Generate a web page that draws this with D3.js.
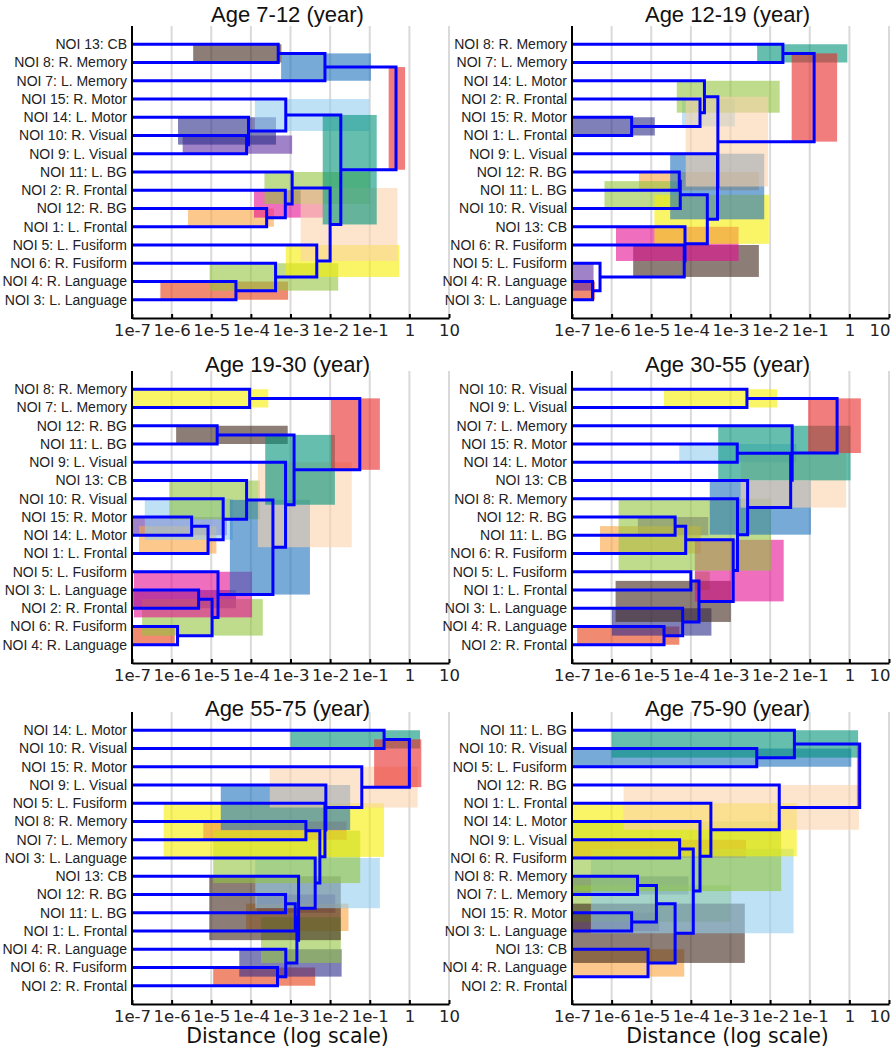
<!DOCTYPE html>
<html>
<head>
<meta charset="utf-8">
<script src="https://cdn.jsdelivr.net/npm/d3@7"></script>
<style>
  body { margin: 0; background: #fff; }
</style>
</head>
<body>
<div id="chart"></div>
<script>
// Data
const noiNames = {
  1: 'L. Frontal', 2: 'R. Frontal', 3: 'L. Language', 4: 'R. Language',
  5: 'L. Fusiform', 6: 'R. Fusiform', 7: 'L. Memory', 8: 'R. Memory',
  9: 'L. Visual', 10: 'R. Visual', 11: 'L. BG', 12: 'R. BG',
  13: 'CB', 14: 'L. Motor', 15: 'R. Motor'
}

const titles = [
  'Age 7-12 (year)', 'Age 12-19 (year)', 'Age 19-30 (year)',
  'Age 30-55 (year)', 'Age 55-75 (year)', 'Age 75-90 (year)'
]

const tickValues = [1e-7, 1e-6, 1e-5, 1e-4, 1e-3, 1e-2, 1e-1, 1, 10]
const tickLabels = ['1e-7', '1e-6', '1e-5', '1e-4', '1e-3', '1e-2', '1e-1', '1', '10']
const xLabel = 'Distance (log scale)'

// leaf order, top to bottom (NOI number)
const order1 = [13, 8, 7, 15, 14, 10, 9, 11, 2, 12, 1, 5, 6, 4, 3]
const order2 = [8, 7, 14, 2, 15, 1, 9, 12, 11, 10, 13, 6, 5, 4, 3]
const order3 = [8, 7, 12, 11, 9, 13, 10, 15, 14, 1, 5, 3, 2, 6, 4]
const order4 = [10, 9, 7, 15, 14, 13, 8, 12, 11, 6, 5, 1, 3, 4, 2]
const order5 = [14, 10, 15, 9, 5, 8, 7, 3, 13, 12, 11, 1, 4, 6, 2]
const order6 = [11, 10, 5, 12, 1, 14, 9, 6, 8, 7, 15, 3, 13, 4, 2]

// linkage: [node A, node B, distance, interval low, interval high]
// nodes 1-15 are NOIs, node 15+k is the cluster made by row k
const links1 = [
  [4, 3, 4.2e-5, 5.2e-7, 8.7e-4],
  [10, 9, 7.8e-5, 1.9e-6, 1.1e-3],
  [14, 17, 8.7e-5, 1.45e-6, 4.3e-4],
  [12, 1, 2.5e-4, 2.6e-6, 3.8e-4],
  [6, 16, 4.2e-4, 9.1e-6, 1.6e-2],
  [13, 8, 4.9e-4, 3.5e-6, 5.9e-4],
  [2, 19, 7.4e-4, 1.2e-4, 6.6e-3],
  [15, 18, 7.6e-4, 1.26e-4, 9.8e-2],
  [11, 22, 1.1e-3, 2.2e-4, 0.102],
  [5, 20, 4.6e-3, 7.6e-4, 0.56],
  [21, 7, 7.4e-3, 5.8e-4, 0.107],
  [24, 25, 1.0e-2, 1.8e-3, 0.50],
  [23, 27, 1.86e-2, 6.5e-3, 0.15],
  [26, 28, 0.46, 0.30, 0.78]
]
const links2 = [
  [4, 3, 3.3e-7, 5e-8, 3.8e-7],
  [5, 16, 5.1e-7, 5e-8, 3.5e-7],
  [15, 1, 3.2e-6, 5e-8, 1.23e-5],
  [12, 11, 5.1e-5, 4.9e-6, 5.2e-3],
  [19, 10, 5.4e-5, 6.6e-7, 5.6e-5],
  [6, 17, 6.8e-5, 3.5e-6, 5.2e-3],
  [13, 21, 7.1e-5, 1.29e-6, 1.6e-3],
  [2, 18, 1.7e-4, 6.0e-5, 1.29e-3],
  [14, 23, 2.2e-4, 4.4e-5, 1.74e-2],
  [20, 22, 2.6e-4, 1.2e-5, 9.3e-3],
  [9, 25, 4.7e-4, 3.0e-5, 7.1e-3],
  [24, 26, 4.8e-4, 7.4e-5, 8.9e-3],
  [8, 7, 2.1e-2, 4.7e-3, 0.89],
  [28, 27, 0.129, 3.5e-2, 0.49]
]
const links3 = [
  [6, 4, 1.41e-6, 5e-8, 1.2e-6],
  [15, 14, 3.2e-6, 5e-8, 2.5e-5],
  [3, 2, 4.8e-6, 5e-8, 4.2e-5],
  [17, 1, 8.3e-6, 1.5e-7, 1.35e-5],
  [18, 16, 1.05e-5, 1.8e-7, 2.0e-4],
  [12, 11, 1.41e-5, 1.3e-6, 8.5e-4],
  [5, 20, 1.48e-5, 1.12e-7, 1.07e-4],
  [10, 19, 2.0e-5, 2.1e-7, 3.5e-5],
  [13, 23, 7.8e-5, 8.7e-7, 1.7e-4],
  [8, 7, 9.3e-5, 5e-8, 2.75e-4],
  [24, 22, 3.6e-4, 2.95e-5, 3.1e-3],
  [9, 26, 7.5e-4, 1.5e-4, 3.5e-2],
  [21, 27, 1.23e-3, 2.3e-4, 1.32e-2],
  [25, 28, 5.6e-2, 1.05e-2, 0.18]
]
const links4 = [
  [4, 2, 2.1e-5, 1.35e-7, 5.1e-5],
  [12, 11, 4.0e-5, 4.6e-6, 2.75e-4],
  [3, 16, 6.2e-5, 1.02e-6, 3.3e-4],
  [17, 6, 7.4e-5, 5.1e-7, 1.78e-4],
  [5, 1, 1.0e-4, 1.26e-4, 3.0e-4],
  [20, 18, 1.6e-4, 1.26e-6, 1.02e-3],
  [19, 21, 1.17e-3, 1.26e-4, 2.2e-2],
  [15, 14, 1.48e-3, 5.1e-5, 4.6e-2],
  [8, 22, 1.5e-3, 1.5e-6, 1.05e-2],
  [10, 9, 2.6e-3, 2.1e-5, 1.5e-2],
  [13, 24, 2.7e-3, 3.0e-4, 0.107],
  [23, 26, 3.3e-2, 1.8e-3, 0.83],
  [7, 27, 3.6e-2, 4.9e-4, 1.07],
  [25, 28, 0.49, 9.1e-2, 1.95]
]
const links5 = [
  [6, 2, 4.7e-4, 1.12e-5, 4.2e-3],
  [12, 11, 7.5e-4, 1.41e-4, 1.35e-2],
  [4, 16, 7.6e-4, 5.1e-5, 1.95e-2],
  [17, 1, 1.32e-3, 7.6e-5, 2.9e-2],
  [19, 18, 1.45e-3, 1.8e-4, 1.86e-2],
  [13, 20, 1.6e-3, 8.9e-6, 1.86e-2],
  [8, 7, 2.45e-3, 6.3e-6, 2.6e-2],
  [3, 21, 4.2e-3, 1.29e-4, 0.18],
  [22, 23, 5.5e-3, 1.12e-5, 5.75e-2],
  [5, 24, 7.4e-3, 6.3e-7, 0.23],
  [9, 25, 7.8e-3, 1.74e-5, 3.2e-2],
  [15, 26, 6.3e-2, 3.0e-4, 1.62],
  [14, 10, 0.23, 1.0e-3, 1.86],
  [28, 27, 1.0, 0.129, 2.0]
]
const links6 = [
  [4, 2, 3e-8, 1e-8, 2e-8],
  [15, 3, 3.2e-6, 5e-8, 1.58e-5],
  [8, 7, 4.5e-6, 5e-8, 8.7e-5],
  [13, 16, 8.3e-6, 5e-8, 6.8e-5],
  [18, 17, 1.35e-5, 5e-8, 1.0e-3],
  [20, 19, 4.0e-5, 5e-8, 2.3e-3],
  [9, 6, 5.2e-5, 5e-8, 2.45e-3],
  [22, 21, 1.15e-4, 3.0e-7, 3.9e-2],
  [14, 23, 1.7e-4, 5e-8, 1.9e-2],
  [1, 24, 3.2e-4, 5e-8, 4.7e-2],
  [10, 5, 4.6e-3, 5e-8, 1.12],
  [12, 25, 1.7e-2, 2.0e-6, 1.74],
  [11, 26, 4.1e-2, 1.0e-6, 1.66],
  [27, 28, 1.82, 1.55, 1.82]
]

const orders = [order1, order2, order3, order4, order5, order6]
const allLinks = [links1, links2, links3, links4, links5, links6]

// one colour per merge step
const palette = [
  '#e63c10', '#612fa3', '#2b2b8a', '#faa33f', '#93c53f', '#40281a', '#e60d93',
  '#93cdee', '#93c53f', '#f7ee00', '#1e71bc', '#fad2ac', '#00937a', '#e82626'
]

// Dimensions
const dimensions = {
  width: 891,
  height: 1050,
  plotW: 317,
  plotH: 292,
  lefts: [132, 572],
  tops: [26, 371, 712],
  titleY: [22, 372, 716],
}

const svg = d3.select('#chart')
  .append('svg')
  .attr('width', dimensions.width)
  .attr('height', dimensions.height)
  .style('font-family', 'Liberation Sans, Arial, sans-serif')

titles.forEach((title, p) => {
  const left = dimensions.lefts[p % 2]
  const row = Math.floor(p / 2)
  const top = dimensions.tops[row]
  const right = left + dimensions.plotW
  const bottom = top + dimensions.plotH
  const order = orders[p]
  const links = allLinks[p]

  const xScale = d3.scaleLog()
    .domain([1e-7, 10])
    .range([left, right])

  const yScale = d3.scaleLinear()
    .domain([-1, order.length])
    .range([top, bottom])

  const ctr = svg.append('g')

  const clipId = `clip-${p}`
  ctr.append('clipPath')
    .attr('id', clipId)
    .append('rect')
    .attr('x', left)
    .attr('y', top - 5)
    .attr('width', dimensions.plotW)
    .attr('height', dimensions.plotH + 10)

  // grid
  ctr.append('g')
    .selectAll('line')
    .data(tickValues.slice(1))
    .join('line')
    .attr('x1', d => xScale(d))
    .attr('x2', d => xScale(d))
    .attr('y1', top)
    .attr('y2', bottom)
    .attr('stroke', '#dadada')
    .attr('stroke-width', 2)

  // node positions: leaves then clusters
  const nodes = {}
  order.forEach((noi, i) => { nodes[noi] = { y: i, d: 0 } })
  const merges = links.map((l, k) => {
    const a = nodes[l[0]]
    const b = nodes[l[1]]
    nodes[order.length + 1 + k] = { y: (a.y + b.y) / 2, d: l[2] }
    return { a, b, d: l[2], lo: l[3], hi: l[4], k }
  })

  const xPos = d => d === 0 ? left : xScale(d)

  const plot = ctr.append('g')
    .attr('clip-path', `url(#${clipId})`)

  // interval boxes
  plot.append('g')
    .selectAll('rect')
    .data(merges)
    .join('rect')
    .attr('x', m => xScale(m.lo))
    .attr('width', m => Math.max(0, xScale(m.hi) - xScale(m.lo)))
    .attr('y', m => yScale(Math.min(m.a.y, m.b.y)))
    .attr('height', m => Math.abs(yScale(m.a.y) - yScale(m.b.y)))
    .attr('fill', m => palette[m.k])
    .attr('fill-opacity', 0.6)

  // dendrogram
  plot.append('g')
    .selectAll('path')
    .data(merges)
    .join('path')
    .attr('d', m => `M${xPos(m.a.d)},${yScale(m.a.y)}H${xScale(m.d)}V${yScale(m.b.y)}H${xPos(m.b.d)}`)
    .attr('fill', 'none')
    .attr('stroke', '#0000ff')
    .attr('stroke-width', 3)
    .attr('stroke-linejoin', 'miter')

  // leaf labels
  ctr.append('g')
    .selectAll('text')
    .data(order)
    .join('text')
    .attr('x', left - 5)
    .attr('y', (d, i) => yScale(i))
    .attr('dy', '0.35em')
    .attr('text-anchor', 'end')
    .attr('font-size', 14)
    .attr('fill', '#222')
    .text(d => `NOI ${d}: ${noiNames[d]}`)

  // axes
  const xAxis = d3.axisBottom(xScale)
    .tickValues(tickValues)
    .tickFormat((d, i) => tickLabels[i])
    .tickSizeInner(-4)
    .tickSizeOuter(0)
    .tickPadding(6)

  const axisG = ctr.append('g')
    .attr('transform', `translate(0, ${bottom})`)
    .call(xAxis)

  axisG.select('.domain')
    .attr('stroke', '#000')
    .attr('stroke-width', 2)
  axisG.selectAll('.tick line')
    .attr('stroke', '#000')
    .attr('stroke-width', 2)
  axisG.selectAll('.tick text')
    .attr('font-family', 'DejaVu Sans, sans-serif')
    .attr('font-size', 16.5)
    .attr('fill', '#222')

  // last label sits against the page edge on the right column
  if (p % 2 === 1) {
    axisG.selectAll('.tick text')
      .filter(d => d === 10)
      .attr('text-anchor', 'end')
      .attr('x', 1)
  }

  ctr.append('line')
    .attr('x1', left)
    .attr('x2', left)
    .attr('y1', top)
    .attr('y2', bottom + 1)
    .attr('stroke', '#000')
    .attr('stroke-width', 2)

  // title
  ctr.append('text')
    .attr('x', (left + right) / 2 - 3)
    .attr('y', dimensions.titleY[row])
    .attr('text-anchor', 'middle')
    .attr('font-size', 22)
    .attr('fill', '#111')
    .text(title)

  if (row === 2) {
    ctr.append('text')
      .attr('x', (left + right) / 2 - 3)
      .attr('y', bottom + 39)
      .attr('text-anchor', 'middle')
      .attr('font-family', 'DejaVu Sans, sans-serif')
      .attr('font-size', 20.5)
      .attr('fill', '#111')
      .text(xLabel)
  }
})
</script>
</body>
</html>
